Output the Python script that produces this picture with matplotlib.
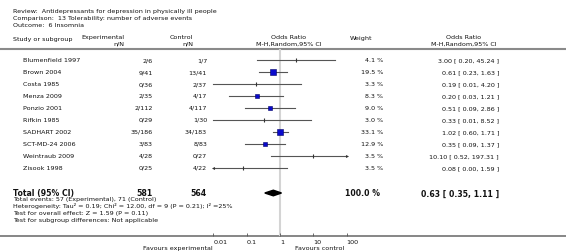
import numpy as np
import matplotlib
matplotlib.use("Agg")
import matplotlib.pyplot as plt
from matplotlib.ticker import NullLocator

# --- data ---
studies = ["Blumenfield 1997", "Brown 2004", "Costa 1985", "Menza 2009", "Ponzio 2001",
           "Rifkin 1985", "SADHART 2002", "SCT-MD-24 2006", "Weintraub 2009", "Zisook 1998"]
exp_nN = ["2/6", "9/41", "0/36", "2/35", "2/112", "0/29", "35/186", "3/83", "4/28", "0/25"]
ctl_nN = ["1/7", "13/41", "2/37", "4/17", "4/117", "1/30", "34/183", "8/83", "0/27", "4/22"]
weights = [4.1, 19.5, 3.3, 8.3, 9.0, 3.0, 33.1, 12.9, 3.5, 3.5]
odds = [3.00, 0.61, 0.19, 0.20, 0.51, 0.33, 1.02, 0.35, 10.10, 0.08]
ci_lo = [0.20, 0.23, 0.01, 0.03, 0.09, 0.01, 0.60, 0.09, 0.52, 0.00]
ci_hi = [45.24, 1.63, 4.20, 1.21, 2.86, 8.52, 1.71, 1.37, 197.31, 1.59]

total_exp, total_ctl = 581, 564
total_or, total_lo, total_hi = 0.63, 0.35, 1.11

header_lines = ["Review:  Antidepressants for depression in physically ill people",
                "Comparison:  13 Tolerability: number of adverse events",
                "Outcome:  6 Insomnia"]
foot_lines = ["Total events: 57 (Experimental), 71 (Control)",
              "Heterogeneity: Tau\u00b2 = 0.19; Chi\u00b2 = 12.00, df = 9 (P = 0.21); I\u00b2 =25%",
              "Test for overall effect: Z = 1.59 (P = 0.11)",
              "Test for subgroup differences: Not applicable"]
tick_vals = [0.01, 0.1, 1, 10, 100]
tick_labels = ["0.01", "0.1", "1", "10", "100"]

W, H = 566, 253
TXT = "#111111"
FS = 4.6

fig = plt.figure(figsize=(W / 100, H / 100), dpi=100)
ax = fig.add_axes([0, 0, 1, 1])
ax.set_xlim(0, W)
ax.set_ylim(H, 0)
ax.axis("off")

# header
for i, s in enumerate(header_lines):
    ax.text(13, 11 + 7 * i, s, fontsize=FS, color=TXT, va="center")
ax.text(13, 39, "Study or subgroup", fontsize=FS, color=TXT, va="center")
ax.text(124, 37.5, "Experimental", fontsize=FS, color=TXT, va="center", ha="right")
ax.text(124, 44, "n/N", fontsize=FS, color=TXT, va="center", ha="right")
ax.text(193, 37.5, "Control", fontsize=FS, color=TXT, va="center", ha="right")
ax.text(193, 44, "n/N", fontsize=FS, color=TXT, va="center", ha="right")
ax.text(289, 37.5, "Odds Ratio", fontsize=FS, color=TXT, va="center", ha="center")
ax.text(289, 44, "M-H,Random,95% CI", fontsize=FS, color=TXT, va="center", ha="center")
ax.text(350, 38.5, "Weight", fontsize=FS, color=TXT, va="center")
ax.text(464, 37.5, "Odds Ratio", fontsize=FS, color=TXT, va="center", ha="center")
ax.text(464, 44, "M-H,Random,95% CI", fontsize=FS, color=TXT, va="center", ha="center")
ax.plot([0, W], [49.5, 49.5], color="#8a8a8a", lw=1.5)

# study rows
row_y = 60.5 + 12 * np.arange(len(studies))
for y, name, e, c, w, o, lo, hi in zip(row_y, studies, exp_nN, ctl_nN, weights, odds, ci_lo, ci_hi):
    ax.text(23, y, name, fontsize=FS, color=TXT, va="center")
    ax.text(153, y, e, fontsize=FS, color=TXT, va="center", ha="right")
    ax.text(207, y, c, fontsize=FS, color=TXT, va="center", ha="right")
    ax.text(383, y, f"{w:.1f} %", fontsize=FS, color=TXT, va="center", ha="right")
    ax.text(499, y, f"{o:.2f} [ {lo:.2f}, {hi:.2f} ]", fontsize=FS, color=TXT, va="center", ha="right")

# total row + footnotes
ty = 194
ax.text(13, ty, "Total (95% CI)", fontsize=5.6, fontweight="bold", color="#111", va="center")
ax.text(153, ty, str(total_exp), fontsize=5.6, fontweight="bold", color="#111", va="center", ha="right")
ax.text(207, ty, str(total_ctl), fontsize=5.6, fontweight="bold", color="#111", va="center", ha="right")
ax.text(380, ty, "100.0 %", fontsize=5.6, fontweight="bold", color="#111", va="center", ha="right")
ax.text(499, ty, f"{total_or:.2f} [ {total_lo:.2f}, {total_hi:.2f} ]", fontsize=5.6,
        fontweight="bold", color="#111", va="center", ha="right")
for i, s in enumerate(foot_lines):
    ax.text(13, 199.5 + 7 * i, s, fontsize=4.6, color=TXT, va="center")

# bottom axis line + favours labels
ax.plot([0, W], [237, 237], color="#666666", lw=1.1)
ax.text(213, 248.5, "Favours experimental", fontsize=FS, color=TXT, va="center", ha="right")
ax.text(295, 248.5, "Favours control", fontsize=FS, color=TXT, va="center")

# forest panel on a log scale
x0, x1 = 213.33, 346.67
ax2 = fig.add_axes([x0 / W, (H - 237) / H, (x1 - x0) / W, 237 / H])
ax2.set_xscale("log")
ax2.set_xlim(0.01, 100)
ax2.set_ylim(237, 0)
ax2.patch.set_alpha(0)
for sp in ax2.spines.values():
    sp.set_visible(False)
ax2.set_yticks([])
ax2.set_xticks(tick_vals)
ax2.set_xticklabels(tick_labels)
ax2.xaxis.set_minor_locator(NullLocator())
ax2.tick_params(axis="x", direction="in", length=2.5, width=0.6, color="#555555",
                labelsize=FS, labelcolor=TXT, pad=2)
for t in ax2.get_xticklabels():
    t.set_horizontalalignment("left")

ax2.plot([1, 1], [50.5, 237], color="#d4d4d4", lw=1.5, zorder=1)

for y, w, o, lo, hi in zip(row_y, weights, odds, ci_lo, ci_hi):
    a = max(lo, 0.01)
    b = min(hi, 100)
    ax2.plot([a, b], [y, y], color="#555555", lw=0.8, zorder=2, clip_on=False)
    if lo < 0.01:
        ax2.plot(0.01, y, marker="<", ms=2.2, color="#333333", mew=0, clip_on=False, zorder=3)
    if hi > 100:
        ax2.plot(100, y, marker=">", ms=2.2, color="#333333", mew=0, clip_on=False, zorder=3)
    if w < 5:
        ax2.plot(o, y, marker="|", ms=2.4, mew=0.8, color="#333333", zorder=3)
    else:
        side = 1.15 * np.sqrt(w) * 0.72
        ax2.plot(o, y, marker="s", ms=side, mfc="#0a0acc", mec="#000066", mew=0.4, zorder=3)

dh = 2.8
ax2.fill([total_lo, total_or, total_hi, total_or], [ty, ty - dh, ty, ty + dh],
         color="black", zorder=3)

fig.savefig("out.png", dpi=100)
